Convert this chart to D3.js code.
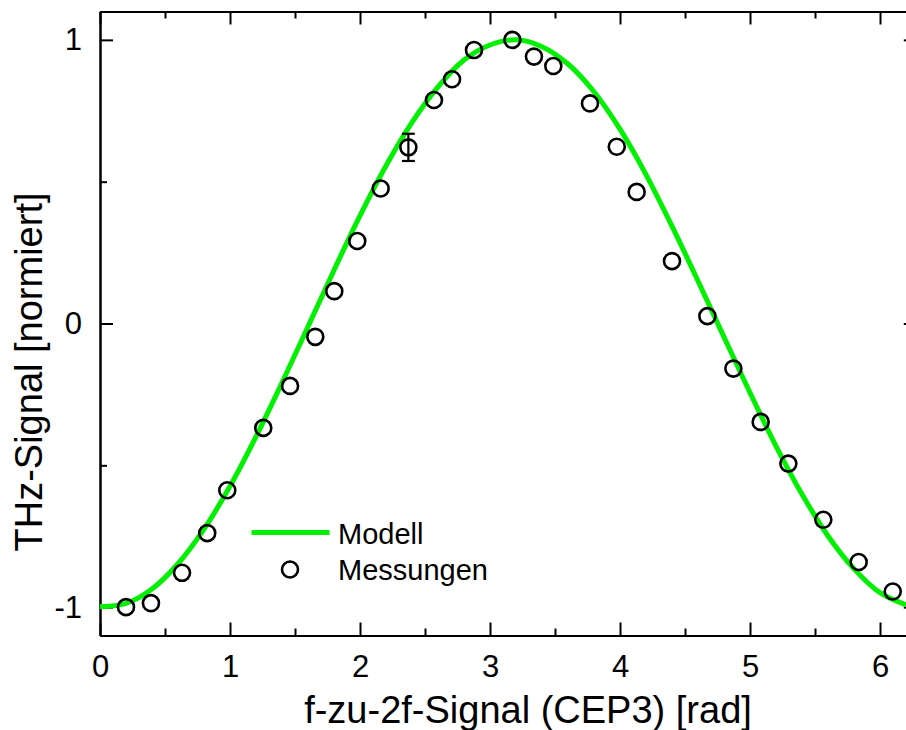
<!DOCTYPE html>
<html>
<head>
<meta charset="utf-8">
<script src="https://cdn.jsdelivr.net/npm/d3@7"></script>
<style>
  html, body { margin: 0; padding: 0; background: #fff; }
  svg { display: block; font-family: "Liberation Sans", Arial, Helvetica, sans-serif; }
</style>
</head>
<body>
<svg id="chart" width="906" height="730"></svg>
<script>
// Measured THz signal vs. f-to-2f phase (CEP3)
const measX = [0.200, 0.392, 0.631, 0.825, 0.979, 1.256, 1.462, 1.656, 1.802, 1.979,
               2.159, 2.372, 2.569, 2.708, 2.877, 3.172, 3.338, 3.487, 3.769, 3.975,
               4.128, 4.400, 4.672, 4.872, 5.082, 5.295, 5.564, 5.836, 6.098];
const measY = [-1.000, -0.986, -0.879, -0.739, -0.588, -0.368, -0.220, -0.047, 0.114, 0.291,
               0.476, 0.621, 0.788, 0.861, 0.964, 1.000, 0.941, 0.908, 0.776, 0.623,
               0.464, 0.220, 0.026, -0.159, -0.347, -0.494, -0.692, -0.841, -0.945];
const measErr = [0, 0, 0, 0, 0, 0, 0, 0, 0, 0,
                 0, 0.048, 0, 0, 0, 0, 0, 0, 0, 0,
                 0, 0, 0, 0, 0, 0, 0, 0, 0];

// Model curve
const modelX = [0.0, 0.2, 0.4, 0.6, 0.8, 1.0, 1.2, 1.4, 1.6, 1.8, 2.0, 2.2, 2.4, 2.6, 2.8, 3.0,
                3.2, 3.4, 3.6, 3.8, 4.0, 4.2, 4.4, 4.6, 4.8, 5.0, 5.2, 5.4, 5.6, 5.8, 6.0, 6.2];
const modelY = [-0.999, -0.987, -0.936, -0.847, -0.725, -0.574, -0.399, -0.209, -0.011, 0.188,
                0.380, 0.556, 0.709, 0.834, 0.929, 0.982, 1.000, 0.976, 0.915, 0.817,
                0.685, 0.525, 0.343, 0.150, -0.048, -0.244, -0.432, -0.602, -0.749, -0.865,
                -0.949, -0.992];

const xMajor = [0, 1, 2, 3, 4, 5, 6];
const xMinor = [0.5, 1.5, 2.5, 3.5, 4.5, 5.5];
const yMajor = [-1, 0, 1];
const yMinor = [-0.5, 0.5];
const yTickLabels = ["-1", "0", "1"];

const legendLabels = ["Modell", "Messungen"];
const xTitle = "f-zu-2f-Signal (CEP3) [rad]";
const yTitle = "THz-Signal [normiert]";

const GREEN = "#00f000";

const svg = d3.select("#chart");
const plotL = 100, plotR = 916.8, plotT = 11.5, plotB = 635.5;

const x = d3.scaleLinear().domain([0, 6.283]).range([plotL, plotR]);
const y = d3.scaleLinear().domain([-1.1, 1.1]).range([plotB, plotT]);

const styleAxis = g => {
  g.selectAll("path.domain").attr("stroke", "#000").attr("stroke-width", 2);
  g.selectAll(".tick line").attr("stroke", "#000").attr("stroke-width", 2);
  g.selectAll(".tick text").attr("fill", "#000").attr("font-size", 31)
    .attr("font-family", "Liberation Sans, Arial, sans-serif");
};

// Bottom axis (labelled) + minor ticks
svg.append("g").attr("transform", `translate(0,${plotB})`)
  .call(d3.axisBottom(x).tickValues(xMajor).tickSize(-13).tickSizeOuter(0)
        .tickPadding(19.5).tickFormat(d3.format("d")))
  .call(styleAxis);
svg.append("g").attr("transform", `translate(0,${plotB})`)
  .call(d3.axisBottom(x).tickValues(xMinor).tickSize(-7).tickSizeOuter(0).tickFormat(""))
  .call(styleAxis);

// Top axis (mirror ticks)
svg.append("g").attr("transform", `translate(0,${plotT})`)
  .call(d3.axisTop(x).tickValues(xMajor).tickSize(-13).tickSizeOuter(0).tickFormat(""))
  .call(styleAxis);
svg.append("g").attr("transform", `translate(0,${plotT})`)
  .call(d3.axisTop(x).tickValues(xMinor).tickSize(-7).tickSizeOuter(0).tickFormat(""))
  .call(styleAxis);

// Left axis (labelled) + minor ticks
svg.append("g").attr("transform", `translate(${plotL},0)`)
  .call(d3.axisLeft(y).tickValues(yMajor).tickSize(-13).tickSizeOuter(0)
        .tickPadding(18).tickFormat((d, i) => yTickLabels[i]))
  .call(styleAxis);
svg.append("g").attr("transform", `translate(${plotL},0)`)
  .call(d3.axisLeft(y).tickValues(yMinor).tickSize(-7).tickSizeOuter(0).tickFormat(""))
  .call(styleAxis);

// Right axis (mirror ticks)
svg.append("g").attr("transform", `translate(${plotR},0)`)
  .call(d3.axisRight(y).tickValues(yMajor).tickSize(-13).tickSizeOuter(0).tickFormat(""))
  .call(styleAxis);
svg.append("g").attr("transform", `translate(${plotR},0)`)
  .call(d3.axisRight(y).tickValues(yMinor).tickSize(-7).tickSizeOuter(0).tickFormat(""))
  .call(styleAxis);

// Model curve
const model = modelX.map((v, i) => [v, modelY[i]]);
svg.append("path")
  .datum(model)
  .attr("fill", "none")
  .attr("stroke", GREEN)
  .attr("stroke-width", 5)
  .attr("d", d3.line().x(d => x(d[0])).y(d => y(d[1])).curve(d3.curveCatmullRom));

// Error bars
const meas = measX.map((v, i) => ({ x: v, y: measY[i], e: measErr[i] }));
const eb = svg.append("g").attr("stroke", "#000").attr("stroke-width", 2.2);
meas.filter(d => d.e > 0).forEach(d => {
  const cx = x(d.x);
  eb.append("line").attr("x1", cx).attr("x2", cx).attr("y1", y(d.y + d.e)).attr("y2", y(d.y - d.e));
  eb.append("line").attr("x1", cx - 6.5).attr("x2", cx + 6.5).attr("y1", y(d.y + d.e)).attr("y2", y(d.y + d.e));
  eb.append("line").attr("x1", cx - 6.5).attr("x2", cx + 6.5).attr("y1", y(d.y - d.e)).attr("y2", y(d.y - d.e));
});

// Measurement circles
svg.append("g").selectAll("circle")
  .data(meas)
  .join("circle")
  .attr("cx", d => x(d.x))
  .attr("cy", d => y(d.y))
  .attr("r", 8)
  .attr("fill", "none")
  .attr("stroke", "#000")
  .attr("stroke-width", 2.6);

// Legend
const lg = svg.append("g");
lg.append("line").attr("x1", 251.5).attr("x2", 329.5).attr("y1", 532.5).attr("y2", 532.5)
  .attr("stroke", GREEN).attr("stroke-width", 5);
lg.append("text").attr("x", 338).attr("y", 543.5).attr("font-size", 29).text(legendLabels[0]);
lg.append("circle").attr("cx", 290).attr("cy", 569.5).attr("r", 8)
  .attr("fill", "none").attr("stroke", "#000").attr("stroke-width", 2.6);
lg.append("text").attr("x", 338).attr("y", 580).attr("font-size", 29).text(legendLabels[1]);

// Axis titles
svg.append("text")
  .attr("x", 528).attr("y", 723)
  .attr("text-anchor", "middle").attr("font-size", 38)
  .text(xTitle);
svg.append("text")
  .attr("transform", "translate(42,372) rotate(-90)")
  .attr("text-anchor", "middle").attr("font-size", 38)
  .text(yTitle);
</script>
</body>
</html>
